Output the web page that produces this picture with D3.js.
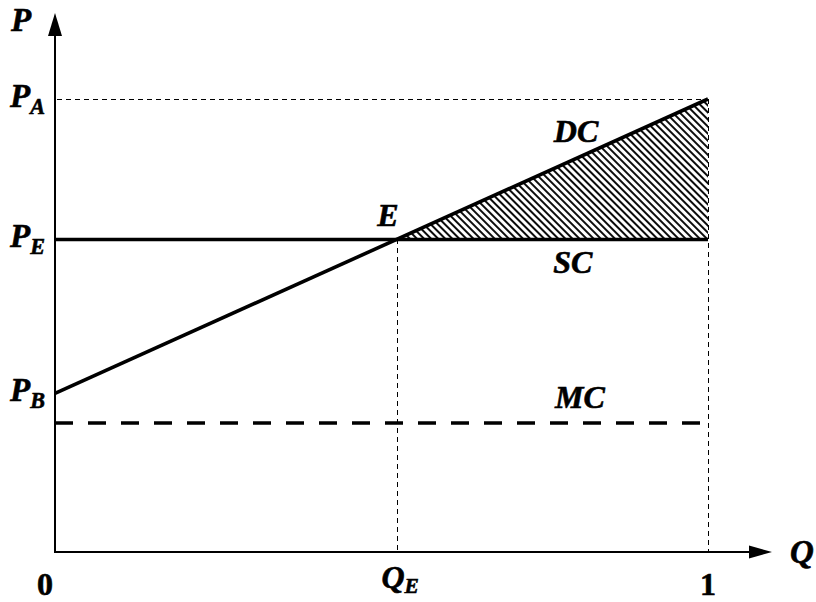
<!DOCTYPE html>
<html><head><meta charset="utf-8">
<script src="https://cdn.jsdelivr.net/npm/d3@7"></script>
<style>body{margin:0;background:#fff}svg text{font-family:"Liberation Serif","Times New Roman",serif;font-weight:bold}</style>
</head><body><svg id="c" width="816" height="602"></svg>
<script>
// Data (abstract units: quantity 0..1, price relative to P_A = 1)
const qTicks = [0, 0.524, 1];
const qTickLabels = ["0", "Q_E", "1"];
const priceLevels = [1.0, 0.69, 0.35];      // P_A, P_E, P_B
const priceLabels = ["P_A", "P_E", "P_B"];
const mcLevel = [0.285];
const dcPoints = [[0, 0.35], [1, 1.0]];       // DC
const scPoints = [[0, 0.69], [1, 0.69]];      // SC
const hatchPoints = [[0.524, 0.69], [1, 1.0], [1, 0.69]];
const curveLabels = [
  {t:"DC", q:0.798, p:0.905},
  {t:"E",  q:0.51,  p:0.72},
  {t:"SC", q:0.793, p:0.616},
  {t:"MC", q:0.804, p:0.318}
];

const svg = d3.select("#c");
const x = d3.scaleLinear().domain([0, 1]).range([55, 708]);
const y = d3.scaleLinear().domain([0, 1]).range([552, 99]);
const yTop = 1.19;

const defs = svg.append("defs");
const pat = defs.append("pattern").attr("id","hatch").attr("patternUnits","userSpaceOnUse")
  .attr("width",5).attr("height",10).attr("patternTransform","rotate(-45)");
pat.append("line").attr("x1",1).attr("y1",-1).attr("x2",1).attr("y2",11)
  .attr("stroke","#000").attr("stroke-width",1.9);

const line = d3.line().x(d=>x(d[0])).y(d=>y(d[1]));

// hatch
svg.append("path").datum(hatchPoints).attr("d", d=>line(d)+"Z").attr("fill","url(#hatch)");

// thin dashed guides
const thin = g => g.attr("stroke","#000").attr("stroke-width",1).attr("stroke-dasharray","5,4").attr("shape-rendering","crispEdges");
svg.append("line").attr("x1",x(0)+2).attr("x2",x(1)).attr("y1",y(priceLevels[0])).attr("y2",y(priceLevels[0])).call(thin);
[qTicks[1], qTicks[2]].forEach((q,i)=>{
  const top = i===0 ? priceLevels[1] : priceLevels[0];
  svg.append("line").attr("x1",x(q)).attr("x2",x(q)).attr("y1",y(top)).attr("y2",y(0)).call(thin);
});

// MC dashed thick
svg.append("line").attr("x1",x(0)).attr("x2",x(1)).attr("y1",y(mcLevel[0])).attr("y2",y(mcLevel[0]))
  .attr("stroke","#000").attr("stroke-width",3.5).attr("stroke-dasharray","18,15");

// SC and DC
svg.append("path").datum(scPoints).attr("d",line).attr("stroke","#000").attr("stroke-width",3.6).attr("fill","none");
svg.append("path").datum(dcPoints).attr("d",line).attr("stroke","#000").attr("stroke-width",3.6).attr("fill","none");

// axes
svg.append("line").attr("x1",x(0)).attr("x2",x(0)).attr("y1",y(0)+1).attr("y2",y(yTop)+20)
  .attr("stroke","#000").attr("stroke-width",2);
svg.append("line").attr("x1",x(0)-1).attr("x2",x(1)+54).attr("y1",y(0)).attr("y2",y(0))
  .attr("stroke","#000").attr("stroke-width",2);
svg.append("path").attr("d",`M${x(0)},${y(yTop)} L${x(0)-7},${y(yTop)+23} L${x(0)+7},${y(yTop)+23}Z`).attr("fill","#000");
const xe = x(1)+64;
svg.append("path").attr("d",`M${xe},${y(0)} L${xe-23},${y(0)-6.5} L${xe-23},${y(0)+6.5}Z`).attr("fill","#000");

// labels with subscripts
function label(txt, px, py, anchor, italic, size, subDy){
  size = size || 33;
  const t = svg.append("text").attr("x",px).attr("y",py).attr("font-size",size)
    .attr("text-anchor",anchor||"start").attr("font-style", italic===false?"normal":"italic")
    .attr("stroke","#000").attr("stroke-width",0.6);
  const parts = txt.split("_");
  t.append("tspan").text(parts[0]);
  if(parts[1]) t.append("tspan").attr("dy",subDy||7).attr("font-size",size*0.67).text(parts[1]);
  return t;
}
label("P", 11, 31);
label("Q", 790, 563);
priceLevels.forEach((p,i)=>label(priceLabels[i], 10, y(p)+8));
label(qTickLabels[0], x(qTicks[0])-10, 595, "middle", false, 32);
label(qTickLabels[1], x(qTicks[1])+3, 588, "middle", true, 32, 5);
label(qTickLabels[2], x(qTicks[2]), 595, "middle", false, 32);
curveLabels.forEach(c=>label(c.t, x(c.q), y(c.p), "middle", true, 32));
</script></body></html>
